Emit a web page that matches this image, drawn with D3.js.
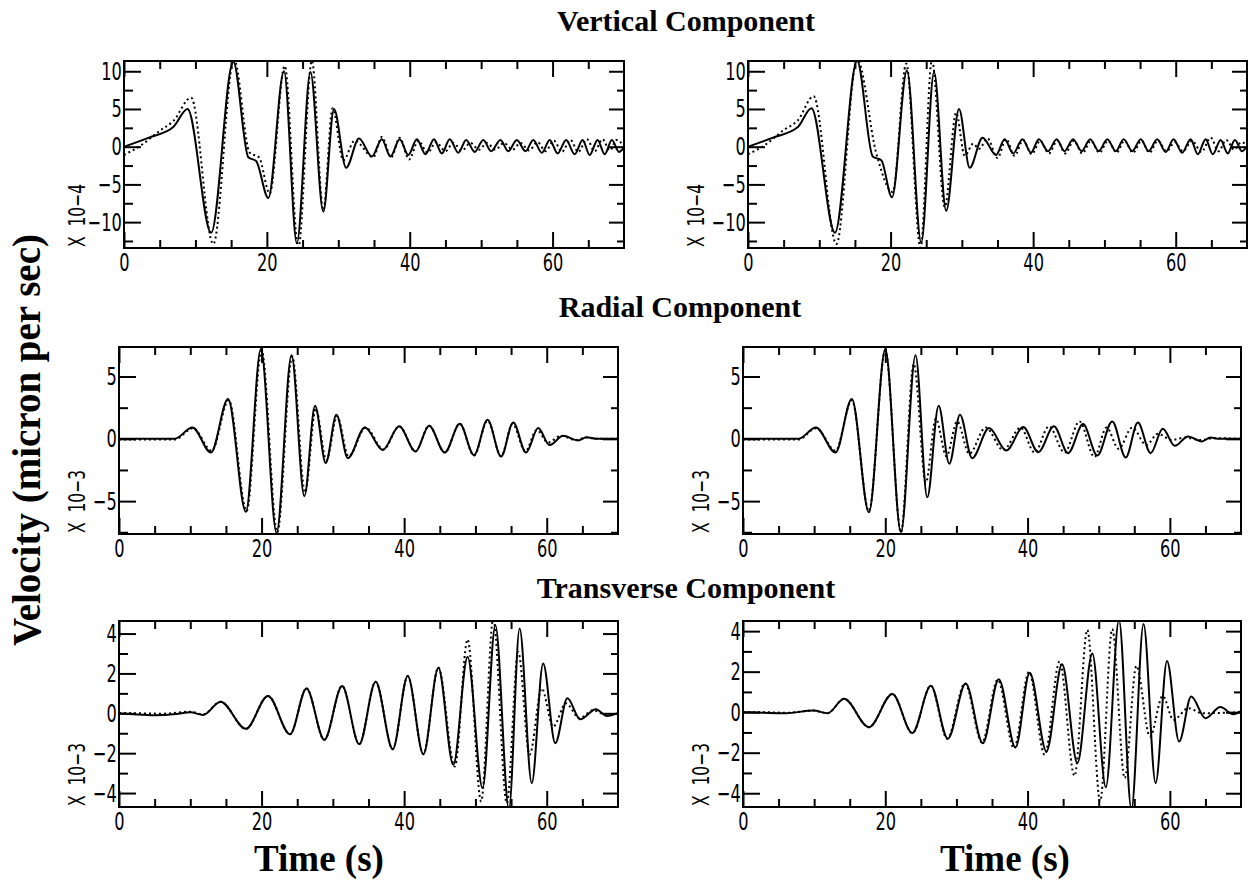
<!DOCTYPE html>
<html>
<head>
<meta charset="utf-8">
<script src="https://cdn.jsdelivr.net/npm/d3@7"></script>
<style>
  body { margin: 0; background: #fff; }
  svg { display: block; }
  .tick text { font-family: "DejaVu Sans Condensed", "DejaVu Sans", sans-serif; font-stretch: condensed; font-size: 25px; fill: #000; }
  .tick line { stroke: #000; stroke-width: 2; }
  .mult { font-family: "DejaVu Sans Condensed", "DejaVu Sans", sans-serif; font-stretch: condensed; font-size: 23px; }
  .title { font-family: "Liberation Serif", "Times New Roman", serif; font-weight: bold; font-size: 30px; }
  .axlabel { font-family: "Liberation Serif", "Times New Roman", serif; font-weight: bold; font-size: 39px; }
</style>
</head>
<body>
<svg id="chart" width="1248" height="882"></svg>
<script>
// time axis
var xTicks = [0, 20, 40, 60];
var xMinor = [5, 10, 15, 25, 30, 35, 45, 50, 55, 65];

// amplitude ticks per component
var vertTicks = [-10, -5, 0, 5, 10];
var vertMinor = [-12.5, -7.5, -2.5, 2.5, 7.5];
var radTicks = [-5, 0, 5];
var radMinor = [-7.5, -2.5, 2.5];
var transTicks = [-4, -2, 0, 2, 4];
var transMinor = [-3, -1, 1, 3];

// [time, value] picked off the traces (peaks, troughs, bends)
var vertLeftSolid = [[0,0],[3.5,1.2],[6.9,2.6],[8.9,5.0],[12.2,-11.4],[15.3,11.3],[17.4,-1.4],[18.5,-1.9],[20.2,-6.8],[22.4,10.0],[24.2,-12.8],[26.1,9.9],[27.9,-8.6],[29.4,5.0],[31.1,-2.8],[32.9,1.1],[34.7,-1.3],[36.1,1.0],[37.3,-1.3],[38.6,1.0],[39.8,-1.1],[41.0,1.0],[42.2,-1.0],[43.4,1.0],[44.5,-0.9],[45.6,1.0],[46.8,-0.8],[47.9,0.9],[49.1,-0.7],[50.3,0.9],[51.4,-0.6],[52.7,0.9],[53.8,-0.6],[55.0,0.9],[56.2,-0.6],[57.3,0.9],[58.5,-0.8],[59.6,0.9],[60.7,-0.9],[61.9,0.9],[63.1,-1.0],[64.2,0.9],[65.2,-1.1],[66.3,0.9],[67.3,-1.0],[68.3,0.9],[69.3,-0.7],[70,-0.1]];
var vertLeftDot = [[0,-1.1],[2.4,0.2],[5,2.1],[6.9,3.4],[9.4,6.5],[12.5,-12.9],[15.4,11.6],[17.6,-0.8],[18.9,-1.4],[20.4,-6.2],[22.5,10.7],[24.4,-13.4],[26.3,11.4],[27.9,-8.4],[29.2,5.1],[30.7,-1.8],[32.3,0.8],[34.9,-1.4],[36.1,1.3],[37.4,-1.4],[38.6,1.2],[39.9,-1.7],[41.2,0.8],[42.5,-0.8],[43.7,0.6],[45.0,-0.6],[46.1,0.5],[47.3,-0.5],[48.5,0.5],[49.7,-0.4],[50.8,0.5],[52.0,-0.4],[53.2,0.5],[54.4,-0.4],[55.5,0.5],[56.7,-0.5],[57.9,0.6],[59.0,-0.6],[60.2,0.8],[61.3,-0.7],[62.5,0.9],[63.6,-0.7],[64.8,1.0],[65.9,-0.6],[67.0,1.0],[68.0,-0.5],[69.0,0.9],[70,0.0]];
var vertRightSolid = [[0,0],[3.5,1.2],[7.0,2.6],[8.9,5.1],[12.2,-11.4],[15.3,11.4],[17.5,-1.3],[18.7,-1.8],[20.2,-6.7],[22.3,10.1],[24.3,-12.7],[26.1,9.9],[27.8,-8.5],[29.6,5.0],[31.1,-2.8],[32.9,1.2],[34.8,-1.1],[36.0,1.0],[37.2,-0.9],[38.5,1.0],[39.7,-0.8],[40.8,1.0],[42.1,-0.6],[43.3,1.0],[44.4,-0.6],[45.6,1.0],[46.8,-0.6],[48.0,1.0],[49.2,-0.6],[50.4,1.0],[51.6,-0.6],[52.7,1.0],[53.9,-0.6],[55.1,1.0],[56.2,-0.6],[57.4,1.0],[58.6,-0.7],[59.7,1.0],[60.9,-0.8],[62.1,1.0],[63.1,-1.0],[64.2,1.0],[65.2,-1.0],[66.3,0.9],[67.3,-0.9],[68.3,0.9],[69.3,-0.6],[70,0.1]];
var vertRightDot = [[0,-1.0],[2.5,0.3],[5,2.2],[7,3.5],[9.2,6.7],[12.4,-12.9],[15.3,11.6],[18.0,-0.9],[20.3,-6.0],[22.2,11.0],[24.2,-13.4],[25.8,11.5],[27.6,-8.0],[29.2,4.5],[30.4,-1.2],[31.6,0.4],[32.4,-0.3],[33.6,1.1],[35.0,-1.5],[36.2,1.0],[37.4,-1.2],[38.6,0.9],[39.8,-1.0],[41.0,0.8],[42.2,-0.9],[43.4,0.8],[44.5,-0.9],[45.7,0.8],[46.9,-0.9],[48.1,0.8],[49.3,-0.8],[50.5,0.8],[51.7,-0.8],[52.8,0.8],[54.0,-0.8],[55.2,0.8],[56.3,-0.8],[57.5,0.8],[58.7,-0.6],[59.9,0.6],[61.0,-0.6],[62.3,0.8],[63.6,-0.7],[64.9,1.2],[66.0,-0.6],[67.1,0.9],[68.2,-0.4],[69.2,0.6],[70,0.2]];

var radLeftSolid = [[0,0],[7.8,0],[10.3,0.91],[12.9,-1.1],[15.3,3.2],[17.8,-5.85],[19.9,7.2],[22.1,-7.55],[24.2,6.7],[26.0,-4.6],[27.5,2.65],[29.0,-1.95],[30.5,1.93],[32.1,-1.55],[34.5,0.91],[37.0,-0.9],[39.3,1.0],[41.6,-1.02],[43.5,1.05],[45.7,-1.1],[47.8,1.2],[49.8,-1.3],[51.7,1.53],[53.6,-1.42],[55.3,1.31],[57.1,-1.1],[58.8,0.86],[60.4,-0.5],[62.3,0.24],[64.4,-0.13],[65.6,0.13],[67.0,0],[70,0]];
var radLeftDot = [[0,-0.05],[7.8,-0.05],[10.4,0.85],[13.0,-0.95],[15.4,3.1],[17.9,-5.8],[20.0,7.1],[22.2,-7.5],[24.3,6.6],[26.1,-4.3],[27.6,2.4],[29.1,-1.7],[30.6,1.8],[32.2,-1.4],[34.6,0.9],[37.1,-0.85],[39.3,1.0],[41.6,-1.0],[43.5,1.05],[45.7,-1.1],[47.8,1.2],[49.8,-1.35],[51.7,1.45],[53.6,-1.4],[55.2,1.2],[57.0,-1.0],[58.6,0.7],[60.2,-0.3],[62.0,0.25],[64.0,-0.1],[65.6,0.1],[67,0],[70,0]];
var radRightSolid = [[0,0],[7.8,0],[10.25,0.91],[13.0,-1.1],[15.3,3.2],[17.7,-5.9],[20.0,7.2],[22.2,-7.5],[24.25,6.7],[25.9,-4.7],[27.5,2.65],[29.0,-2.0],[30.5,1.93],[32.2,-1.55],[34.6,0.86],[37.0,-0.94],[39.4,0.94],[41.5,-1.07],[43.7,1.0],[45.7,-1.15],[47.8,1.18],[49.8,-1.34],[51.9,1.4],[53.8,-1.5],[55.5,1.31],[57.3,-1.15],[59.0,0.8],[60.7,-0.56],[62.55,0.19],[64.5,-0.21],[65.7,0.1],[67,0],[70,0]];
var radRightDot = [[0,-0.05],[7.8,-0.05],[10.3,0.85],[13.0,-0.95],[15.3,3.1],[17.7,-5.8],[20.0,7.1],[22.2,-7.5],[24.0,6.0],[25.7,-3.5],[27.1,1.6],[28.6,-1.4],[30.1,1.4],[31.8,-1.2],[34.1,0.9],[36.6,-0.9],[39.0,0.9],[41.0,-1.1],[43.0,1.0],[45.2,-1.1],[47.3,1.4],[49.4,-1.45],[51.1,0.9],[52.8,-0.8],[54.7,0.9],[56.7,-0.5],[58.3,0.4],[60.3,-0.1],[62,0.1],[64.5,-0.1],[66,0.05],[70,0]];

var transLeftSolid = [[0,0],[2,-0.05],[5,-0.1],[8,-0.04],[10,0.05],[11.8,-0.08],[14.25,0.58],[17.8,-0.78],[20.9,0.87],[24.0,-1.05],[26.3,1.25],[28.8,-1.33],[31.3,1.37],[33.7,-1.55],[36.0,1.58],[38.4,-1.8],[40.5,1.87],[42.7,-2.05],[44.8,2.28],[46.9,-2.58],[48.9,2.83],[51.0,-3.75],[52.8,4.42],[54.7,-4.8],[56.2,4.25],[57.9,-3.5],[59.5,2.5],[61.2,-1.5],[62.9,0.75],[64.7,-0.3],[66.9,0.2],[68.4,-0.13],[70,0]];
var transLeftDot = [[0,0.02],[3,0],[6,-0.02],[10,0.08],[11.8,-0.05],[14.25,0.58],[17.8,-0.78],[20.9,0.87],[24.0,-1.05],[26.3,1.25],[28.8,-1.33],[31.3,1.37],[33.7,-1.55],[36.0,1.58],[38.4,-1.8],[40.5,1.87],[42.7,-2.05],[44.8,2.3],[47.1,-2.67],[48.9,3.7],[50.8,-4.42],[52.5,4.72],[54.4,-4.5],[56.0,3.08],[57.6,-2.08],[59.3,1.25],[60.9,-0.67],[62.7,0.5],[64.6,-0.25],[66.5,0.15],[68.5,-0.1],[70,0]];
var transRightSolid = [[0,0],[3,-0.03],[6,-0.05],[9.9,0.08],[11.9,-0.05],[14.2,0.66],[17.7,-0.74],[21.0,0.9],[23.8,-1.03],[26.4,1.3],[28.8,-1.31],[31.3,1.42],[33.7,-1.53],[35.95,1.63],[38.3,-1.74],[40.3,1.95],[42.65,-1.94],[44.85,2.36],[47.0,-2.51],[49.1,2.9],[51.0,-3.7],[52.85,4.55],[54.6,-4.8],[56.3,4.35],[58.0,-3.5],[59.6,2.53],[61.3,-1.45],[63.0,0.77],[65.0,-0.3],[67.1,0.25],[68.9,-0.1],[70,0.05]];
var transRightDot = [[0,0],[3,0],[6,-0.03],[9.9,0.08],[11.9,-0.05],[14.2,0.66],[17.7,-0.74],[21.0,0.9],[23.8,-1.03],[26.4,1.3],[28.7,-1.31],[31.2,1.42],[33.6,-1.5],[35.8,1.6],[38.1,-1.78],[40.2,1.98],[42.4,-2.1],[44.5,2.5],[46.6,-3.14],[48.4,4.06],[50.2,-4.4],[51.9,4.1],[53.65,-3.25],[55.3,2.28],[57.2,-1.2],[59.0,0.8],[60.5,-0.38],[62.6,0.2],[64.5,-0.05],[70,0]];

var svg = d3.select("#chart");

// panel boxes in page pixels
var panels = [
  {l:124, r:624, t:61, b:248, lo:-13.43, hi:11.36, ticks:vertTicks, minor:vertMinor, mult:"X  10\u22124", mx:85, solid:vertLeftSolid, dot:vertLeftDot},
  {l:748, r:1247, t:61, b:248, lo:-13.43, hi:11.36, ticks:vertTicks, minor:vertMinor, mult:"X  10\u22124", mx:704, solid:vertRightSolid, dot:vertRightDot},
  {l:119, r:618, t:347, b:534, lo:-7.64, hi:7.37, ticks:radTicks, minor:radMinor, mult:"X  10\u22123", mx:85, solid:radLeftSolid, dot:radLeftDot},
  {l:743, r:1241, t:347, b:534, lo:-7.64, hi:7.37, ticks:radTicks, minor:radMinor, mult:"X  10\u22123", mx:709, solid:radRightSolid, dot:radRightDot},
  {l:119, r:618, t:621, b:807, lo:-4.7, hi:4.63, ticks:transTicks, minor:transMinor, mult:"X  10\u22123", mx:85, solid:transLeftSolid, dot:transLeftDot},
  {l:743, r:1241, t:621, b:807, lo:-4.68, hi:4.5, ticks:transTicks, minor:transMinor, mult:"X  10\u22123", mx:709, solid:transRightSolid, dot:transRightDot}
];

panels.forEach(function(p, i) {
  var x = d3.scaleLinear().domain([0, 70]).range([p.l, p.r]);
  var y = d3.scaleLinear().domain([p.lo, p.hi]).range([p.b, p.t]);

  svg.append("clipPath").attr("id", "clip" + i)
    .append("rect").attr("x", p.l).attr("y", p.t).attr("width", p.r - p.l).attr("height", p.b - p.t);

  // bottom: labelled majors + minors
  var gb = svg.append("g").attr("transform", "translate(0," + p.b + ")");
  gb.call(d3.axisBottom(x).tickValues(xTicks).tickSize(-16).tickPadding(5));
  gb.append("g").call(d3.axisBottom(x).tickValues(xMinor).tickSize(-8).tickFormat(""));
  // top
  var gt = svg.append("g").attr("transform", "translate(0," + p.t + ")");
  gt.call(d3.axisTop(x).tickValues(xTicks).tickSize(-16).tickFormat(""));
  gt.append("g").call(d3.axisTop(x).tickValues(xMinor).tickSize(-8).tickFormat(""));
  // left
  var gl = svg.append("g").attr("transform", "translate(" + p.l + ",0)");
  gl.call(d3.axisLeft(y).tickValues(p.ticks).tickSize(-17).tickPadding(3)
    .tickFormat(function(d) { return d < 0 ? "\u2212" + Math.abs(d) : d; }));
  gl.append("g").call(d3.axisLeft(y).tickValues(p.minor).tickSize(-9).tickFormat(""));
  // right
  var gr = svg.append("g").attr("transform", "translate(" + p.r + ",0)");
  gr.call(d3.axisRight(y).tickValues(p.ticks).tickSize(-15).tickFormat(""));
  gr.append("g").call(d3.axisRight(y).tickValues(p.minor).tickSize(-7).tickFormat(""));

  svg.selectAll(".domain").remove();

  svg.append("rect")
    .attr("x", p.l).attr("y", p.t)
    .attr("width", p.r - p.l).attr("height", p.b - p.t)
    .attr("fill", "none").attr("stroke", "#000").attr("stroke-width", 2);

  var line = d3.line()
    .x(function(d) { return x(d[0]); })
    .y(function(d) { return y(d[1]); })
    .curve(d3.curveMonotoneX);

  var g = svg.append("g").attr("clip-path", "url(#clip" + i + ")");
  g.append("path").datum(p.dot)
    .attr("d", line).attr("fill", "none").attr("stroke", "#000")
    .attr("stroke-width", 2).attr("stroke-dasharray", "2,3");
  g.append("path").datum(p.solid)
    .attr("d", line).attr("fill", "none").attr("stroke", "#000")
    .attr("stroke-width", 2);

  // narrow lettering like the plotting package
  svg.append("text").attr("class", "mult")
    .attr("transform", "translate(" + p.mx + "," + (p.b - 1) + ") rotate(-90) scale(0.75,1)")
    .attr("text-anchor", "start")
    .style("white-space", "pre")
    .text(p.mult);
});

svg.selectAll(".tick text").attr("fill", "#000").attr("transform", "scale(0.72,1)");

svg.append("text").attr("class", "title").attr("x", 686).attr("y", 31).attr("text-anchor", "middle").text("Vertical Component");
svg.append("text").attr("class", "title").attr("x", 680).attr("y", 317).attr("text-anchor", "middle").text("Radial Component");
svg.append("text").attr("class", "title").attr("x", 686).attr("y", 598).attr("text-anchor", "middle").text("Transverse Component");
svg.append("text").attr("class", "axlabel").attr("x", 319).attr("y", 871).attr("text-anchor", "middle")
  .style("font-size", "37px").text("Time (s)");
svg.append("text").attr("class", "axlabel").attr("x", 1005).attr("y", 871).attr("text-anchor", "middle")
  .style("font-size", "37px").text("Time (s)");
svg.append("text").attr("class", "axlabel")
  .attr("transform", "translate(40,440) rotate(-90)")
  .attr("text-anchor", "middle").text("Velocity (micron per sec)");
</script>
</body>
</html>
